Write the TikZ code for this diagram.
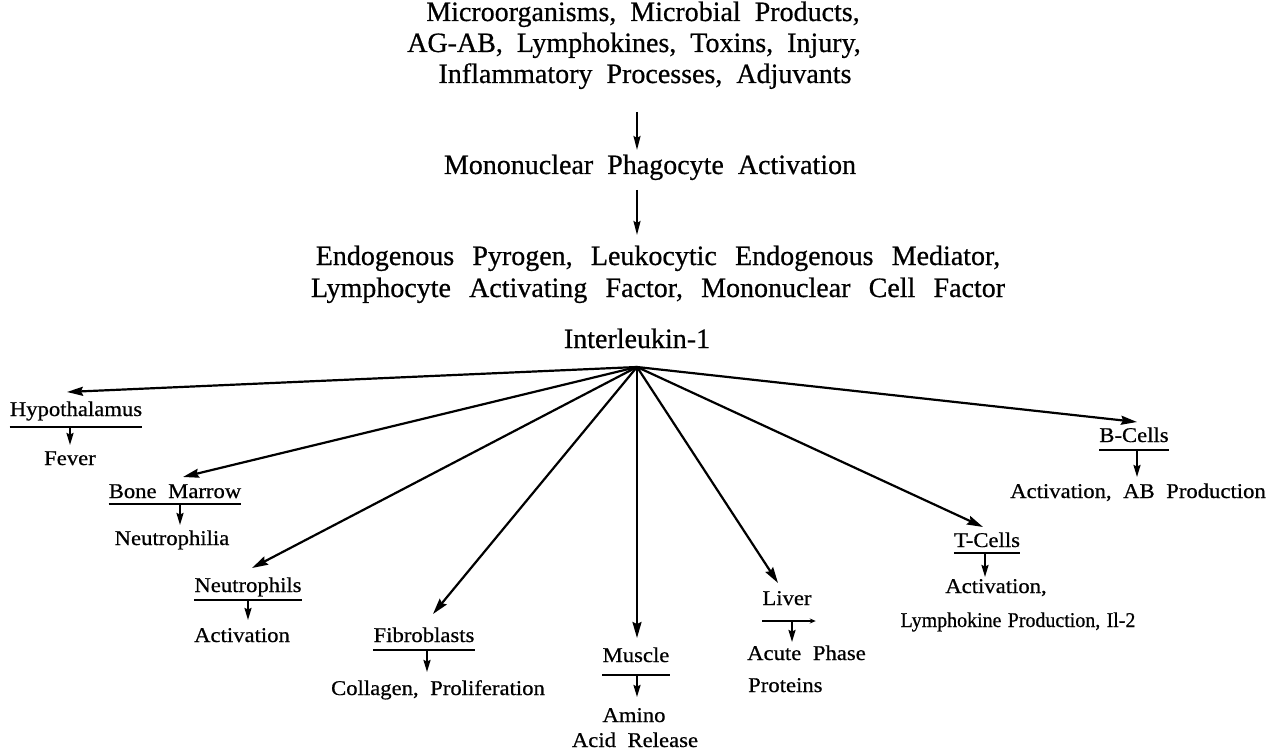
\documentclass[tikz,border=0pt]{standalone}
\usepackage{fontspec}
\setmainfont[FakeBold=0.6]{Liberation Serif}
\newfontfamily\lowfont[FakeStretch=1.08,FakeBold=0.6]{Liberation Serif}
\newfontfamily\narrowfont[FakeStretch=0.95,FakeBold=0.6]{Liberation Serif}
\usetikzlibrary{arrows.meta,calc}
\newcommand\myTopFont{\fontsize{28}{32}\selectfont\setlength{\spaceskip}{0.5em}\setlength{\xspaceskip}{0.5em}}
\newcommand\myWideTopFont{\fontsize{28}{32}\selectfont\setlength{\spaceskip}{0.65em}\setlength{\xspaceskip}{0.65em}}
\newcommand\myLowFont{\lowfont\fontsize{21}{25}\selectfont\setlength{\spaceskip}{0.55em}\setlength{\xspaceskip}{0.55em}}
\newcommand\myNarrowFont{\narrowfont\fontsize{21}{25}\selectfont\setlength{\spaceskip}{0.3em}\setlength{\xspaceskip}{0.3em}}
\tikzset{
  toptxt/.style={inner sep=0pt, anchor=base, font=\myTopFont},
  lowtxt/.style={inner sep=0pt, anchor=base, font=\myLowFont},
  fanarr/.style={line width=2.2pt, -{Stealth[length=16pt,width=9pt,inset=2pt]}},
  toparr/.style={line width=2pt, -{Stealth[length=14pt,width=7pt,inset=2pt]}},
  subarr/.style={line width=2pt, -{Stealth[length=12pt,width=7pt,inset=1.5pt]}},
  uline/.style={line width=2pt},
}
\begin{document}
\begin{tikzpicture}[x=1pt,y=1pt]
\useasboundingbox (0,0) rectangle (1282,-754);
\fill[white] (0,0) rectangle (1282,-754);

% top block
\node[toptxt] (l1) at (643,-21) {Microorganisms, Microbial Products,};
\node[toptxt] (l2) at (634,-52) {AG-AB, Lymphokines, Toxins, Injury,};
\node[toptxt] (l3) at (645,-83) {Inflammatory Processes, Adjuvants};
\node[toptxt] (mono) at (650,-174) {Mononuclear Phagocyte Activation};
\node[toptxt, font=\myWideTopFont] (en1) at (658,-265) {Endogenous Pyrogen, Leukocytic Endogenous Mediator,};
\node[toptxt, font=\myWideTopFont] (en2) at (658,-297) {Lymphocyte Activating Factor, Mononuclear Cell Factor};
\node[toptxt] (il) at (637,-348) {Interleukin-1};

\draw[toparr] ([xshift=-8pt,yshift=-29pt]l3.base) -- ([xshift=-13pt,yshift=24pt]mono.base);
\draw[toparr] ([xshift=-13pt,yshift=-16pt]mono.base) -- ([xshift=-21pt,yshift=30pt]en1.base);

\coordinate (hub) at ([yshift=-19pt]il.base);

% targets
\node[lowtxt] (hyp) at (76,-416) {Hypothalamus};
\node[lowtxt] (bone) at (175,-498) {Bone Marrow};
\node[lowtxt] (neu) at (248,-592) {Neutrophils};
\node[lowtxt] (fib) at (424,-642) {Fibroblasts};
\node[lowtxt] (mus) at (636,-662) {Muscle};
\node[lowtxt] (liv) at (787,-605) {Liver};
\node[lowtxt] (tc) at (987,-547) {T-Cells};
\node[lowtxt] (bc) at (1134,-442) {B-Cells};

% results
\node[lowtxt] (fev) at (70,-465) {Fever};
\node[lowtxt] (neuph) at (172,-545) {Neutrophilia};
\node[lowtxt] (nact) at (242,-642) {Activation};
\node[lowtxt] (coll) at (438,-695) {Collagen, Proliferation};
\node[lowtxt] (am1) at (634,-722) {Amino};
\node[lowtxt] (am2) at (635,-747) {Acid Release};
\node[lowtxt, anchor=base west] (ac1) at (747,-660) {Acute Phase};
\node[lowtxt, anchor=base west] (ac2) at (748,-692) {Proteins};
\node[lowtxt] (ta1) at (996,-593) {Activation,};
\node[lowtxt, font=\myNarrowFont] (ta2) at (1018,-627) {Lymphokine Production, Il-2};
\node[lowtxt] (ba) at (1138,-498) {Activation, AB Production};

% fan arrows
\draw[fanarr] (hub) -- ([xshift=-9pt,yshift=24pt]hyp.base);
\draw[fanarr] (hub) -- ([xshift=8pt,yshift=21pt]bone.base);
\draw[fanarr] (hub) -- ([xshift=4pt,yshift=24pt]neu.base);
\draw[fanarr] (hub) -- ([xshift=9pt,yshift=28pt]fib.base);
\draw[fanarr] (hub) -- ([xshift=1pt,yshift=24pt]mus.base);
\draw[fanarr] (hub) -- ([xshift=-9pt,yshift=22pt]liv.base);
\draw[fanarr] (hub) -- ([xshift=-4pt,yshift=20pt]tc.base);
\draw[fanarr] (hub) -- ([xshift=3pt,yshift=20pt]bc.base);

% underlines
\draw[uline] ([yshift=-11pt]hyp.base west) -- ([yshift=-11pt]hyp.base east);
\draw[uline] ([yshift=-6pt]bone.base west) -- ([yshift=-6pt]bone.base east);
\draw[uline] ([yshift=-8pt]neu.base west) -- ([yshift=-8pt]neu.base east);
\draw[uline] ([yshift=-8pt]fib.base west) -- ([yshift=-8pt]fib.base east);
\draw[uline] ([yshift=-13pt]mus.base west) -- ([yshift=-13pt]mus.base east);
\draw[uline, -{Stealth[length=6pt,width=5pt]}] ([yshift=-16pt]liv.base west) -- ([xshift=4pt,yshift=-16pt]liv.base east);
\draw[uline] ([yshift=-6pt]tc.base west) -- ([yshift=-6pt]tc.base east);
\draw[uline] ([yshift=-8pt]bc.base west) -- ([yshift=-8pt]bc.base east);

% sub arrows
\draw[subarr] ([xshift=-6pt,yshift=-11pt]hyp.base) -- ([xshift=-6pt,yshift=-29pt]hyp.base);
\draw[subarr] ([xshift=5pt,yshift=-6pt]bone.base) -- ([xshift=5pt,yshift=-27pt]bone.base);
\draw[subarr] ([yshift=-8pt]neu.base) -- ([yshift=-28pt]neu.base);
\draw[subarr] ([xshift=3pt,yshift=-8pt]fib.base) -- ([xshift=3pt,yshift=-30pt]fib.base);
\draw[subarr] ([xshift=1pt,yshift=-13pt]mus.base) -- ([xshift=1pt,yshift=-35pt]mus.base);
\draw[subarr] ([xshift=5pt,yshift=-16pt]liv.base) -- ([xshift=5pt,yshift=-37pt]liv.base);
\draw[subarr] ([xshift=-2pt,yshift=-6pt]tc.base) -- ([xshift=-2pt,yshift=-30pt]tc.base);
\draw[subarr] ([xshift=3pt,yshift=-8pt]bc.base) -- ([xshift=3pt,yshift=-35pt]bc.base);
\end{tikzpicture}
\end{document}
